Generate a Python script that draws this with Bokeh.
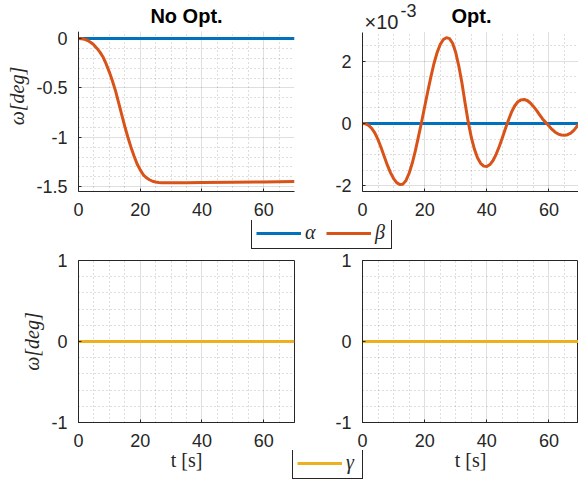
from bokeh.plotting import figure
from bokeh.models import (Range1d, FixedTicker, CustomJSTickFormatter, Label,
                          Legend, LegendItem, BoxAnnotation)
from bokeh.layouts import row, column
from bokeh.embed import file_html
from bokeh.resources import INLINE

# ---------------- data ----------------
t_nopt = [0, 1, 2, 3, 4, 5, 6, 7, 8, 9, 10, 11, 12, 13, 14, 15, 16, 17, 18, 19,
          20, 21, 22, 23, 24, 25, 26, 27, 28, 30, 35, 40, 50, 60, 70]
beta_nopt = [0, -0.002, -0.008, -0.02, -0.04, -0.065, -0.10, -0.14, -0.19, -0.26,
             -0.34, -0.43, -0.53, -0.65, -0.77, -0.89, -1.00, -1.10, -1.19, -1.27,
             -1.33, -1.38, -1.41, -1.43, -1.445, -1.453, -1.458, -1.46, -1.461,
             -1.461, -1.46, -1.458, -1.455, -1.452, -1.448]

t_opt = list(range(0, 71))
# values in units of 1e-3 deg (axis shows x10^-3)
beta_opt_e3 = [0, -0.01, -0.06, -0.16, -0.31, -0.52, -0.78, -1.06, -1.34, -1.58,
               -1.77, -1.90, -1.96, -1.95, -1.83, -1.60, -1.28, -0.88, -0.42, 0.04,
               0.54, 1.03, 1.50, 1.93, 2.28, 2.54, 2.70, 2.76, 2.73, 2.58,
               2.28, 1.84, 1.30, 0.66, 0.06, -0.44, -0.82, -1.10, -1.28, -1.37,
               -1.38, -1.32, -1.19, -0.99, -0.74, -0.46, -0.16, 0.12, 0.38, 0.57,
               0.70, 0.76, 0.77, 0.74, 0.66, 0.55, 0.42, 0.28, 0.14, 0.03,
               -0.08, -0.19, -0.28, -0.34, -0.37, -0.38, -0.36, -0.31, -0.22, -0.09,
               0.02]

t_flat = [0, 70]
alpha_nopt = [0, 0]
alpha_opt = [0, 0]
gamma_nopt = [0, 0]
gamma_opt = [0, 0]

x_ticks = [0, 20, 40, 60]
x_minor = [5, 10, 15, 25, 30, 35, 45, 50, 55, 65, 70]
y_ticks_tl = [-1.5, -1, -0.5, 0]
y_minor_tl = [-1.4, -1.3, -1.2, -1.1, -0.9, -0.8, -0.7, -0.6, -0.4, -0.3, -0.2, -0.1]
y_ticks_tr = [-2, 0, 2]
y_minor_tr = [-1.5, -1, -0.5, 0.5, 1, 1.5, 2.5]
y_ticks_b = [-1, 0, 1]
y_minor_b = [-0.8, -0.6, -0.4, -0.2, 0.2, 0.4, 0.6, 0.8]

titles = ["No Opt.", "Opt."]
y_label = "ω[deg]"
x_label = "t [s]"
exp_base, exp_pow = "×10", "-3"

BLUE, ORANGE, YELLOW = "#0072BD", "#D95319", "#EDB120"
AX = "#262626"
SANS = "Liberation Sans"
SERIF = "Liberation Serif"

fmt_code = "return String(Math.round(tick*1000)/1000)"


def blank(w, h):
    p = figure(width=w, height=h, toolbar_location=None, output_backend="svg",
               x_range=Range1d(0, 1), y_range=Range1d(0, 1), min_border=0,
               x_axis_location=None, y_axis_location=None)
    p.grid.visible = False
    p.outline_line_color = None
    return p


def make(xr, yr, fw, fh, mbl, mbr, mbt, mbb, yt, ym, box, ybounds=None):
    p = figure(frame_width=fw, frame_height=fh, x_range=Range1d(*xr),
               y_range=Range1d(*yr), toolbar_location=None, output_backend="svg",
               min_border_left=mbl, min_border_right=mbr, min_border_top=mbt,
               min_border_bottom=mbb)
    xt = FixedTicker(ticks=x_ticks, minor_ticks=x_minor)
    ytk = FixedTicker(ticks=yt, minor_ticks=ym)
    p.xaxis.ticker = xt
    p.yaxis.ticker = ytk
    p.xgrid.ticker = xt
    p.ygrid.ticker = ytk
    for ax in (p.xaxis, p.yaxis):
        ax.formatter = CustomJSTickFormatter(code=fmt_code)
        ax.major_label_text_font = SANS
        ax.major_label_text_font_size = "18px"
        ax.major_label_text_color = AX
        ax.axis_line_color = AX
        ax.major_tick_line_color = AX
        ax.major_tick_in = 3
        ax.major_tick_out = 0
        ax.minor_tick_line_color = None
        ax.major_label_standoff = 7
    p.grid.grid_line_color = AX
    p.grid.grid_line_alpha = 0.15
    p.grid.minor_grid_line_color = AX
    p.grid.minor_grid_line_alpha = 0.3
    p.grid.minor_grid_line_dash = "1 3"
    p.outline_line_color = AX if box else None
    p.outline_line_alpha = 1.0
    if ybounds is not None:
        # the plotting area ends at ybounds[1]; the space above holds the titles
        p.yaxis.bounds = ybounds
        p.add_layout(BoxAnnotation(left=-100, right=200, bottom=ybounds[1], top=100,
                                   fill_color="white", fill_alpha=1.0,
                                   line_color=None))
    return p


def ylab(p):
    p.yaxis.axis_label = y_label
    p.yaxis.axis_label_text_font = SERIF
    p.yaxis.axis_label_text_font_style = "italic"
    p.yaxis.axis_label_text_font_size = "20px"
    p.yaxis.axis_label_text_color = AX
    p.yaxis.axis_label_standoff = 5


def lbl(p, x, y, text, size="18px", style="normal", font=SANS, align="left",
        color=AX):
    p.add_layout(Label(x=x, y=y, x_units="screen", y_units="screen", text=text,
                       text_align=align, text_baseline="middle", text_font=font,
                       text_font_style=style, text_font_size=size,
                       text_color=color))


def legend(items, loc):
    return Legend(items=items, orientation="horizontal", location=loc,
                  glyph_width=45, glyph_height=18, label_standoff=4, spacing=9,
                  label_width=12, padding=4, margin=0, border_line_color=AX,
                  border_line_alpha=1.0, label_text_font=SERIF,
                  label_text_font_style="italic", label_text_font_size="20px",
                  label_text_color=AX)


# ---------------- top row ----------------
tl = make((0, 70), (-1.549, 0.385), 216, 191, 78, 6, 0, 29, y_ticks_tl, y_minor_tl,
          False, ybounds=(-1.549, 0.07))
ylab(tl)
tl.line(t_flat, alpha_nopt, color=BLUE, line_width=3)
tl.line(t_nopt, beta_nopt, color=ORANGE, line_width=3, line_join="round")
lbl(tl, 108, 176, titles[0], size="20px", style="bold", align="center", color="black")

tr = make((0, 69.5), (-2.186, 3.955), 216, 191, 62, 0, 0, 29, y_ticks_tr, y_minor_tr,
          False, ybounds=(-2.186, 2.94))
tr.line(t_flat, alpha_opt, color=BLUE, line_width=3)
tr.line(t_opt, beta_opt_e3, color=ORANGE, line_width=3, line_join="round")
lbl(tr, 109, 176, titles[1], size="20px", style="bold", align="center", color="black")
lbl(tr, 2, 170, exp_base, size="20px")
lbl(tr, 38, 181, exp_pow, size="18px")

# ---------------- legend row ----------------
lg1 = blank(578, 32)
ra = lg1.line([5, 6], [5, 6], color=BLUE, line_width=3)
rb = lg1.line([5, 6], [5, 6], color=ORANGE, line_width=3)
lg1.add_layout(legend([LegendItem(label="α", renderers=[ra]),
                       LegendItem(label="β", renderers=[rb])], (251, 3)))

# ---------------- bottom row ----------------
bl = make((0, 70), (-1, 1), 216, 162, 78, 6, 8, 28, y_ticks_b, y_minor_b, True)
ylab(bl)
bl.line(t_flat, gamma_nopt, color=YELLOW, line_width=3)

br = make((0, 69.5), (-1, 1), 216, 162, 62, 0, 8, 28, y_ticks_b, y_minor_b, True)
br.line(t_flat, gamma_opt, color=YELLOW, line_width=3)

# strip with x-axis labels and the gamma legend
strip = blank(578, 35)
lbl(strip, 186, 26, x_label, size="20px", font=SERIF, align="center")
lbl(strip, 470, 26, x_label, size="20px", font=SERIF, align="center")
rg = strip.line([5, 6], [5, 6], color=YELLOW, line_width=3)
strip.add_layout(legend([LegendItem(label="γ", renderers=[rg])], (292, 6)))

layout = column(row(tl, tr), lg1, row(bl, br), strip)

with open("out.html", "w") as f:
    f.write(file_html(layout, INLINE))
